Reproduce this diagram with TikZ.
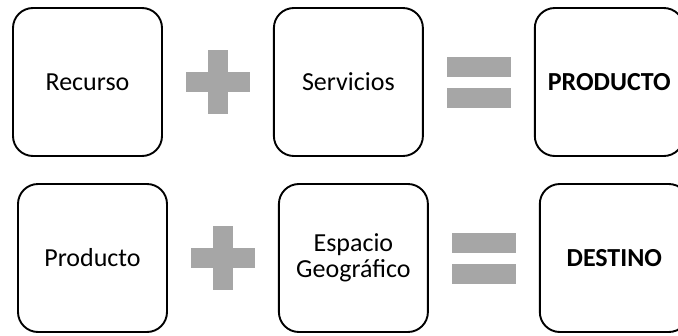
\documentclass[tikz,border=0pt]{standalone}
\usepackage{fontspec}
\setmainfont{Carlito}
\usetikzlibrary{positioning,calc}
\definecolor{opgray}{RGB}{166,166,166}
\tikzset{
	box/.style={draw, line width=1.9pt, rounded corners=20pt, minimum width=149pt, minimum height=148pt, align=center, font=\fontsize{26}{26}\selectfont},
	plussign/.pic={
		\fill[opgray] (-32,-10) rectangle (32,10);
		\fill[opgray] (-10,-32) rectangle (10,32);
	},
	eqsign/.pic={
		\fill[opgray] (-32,-25.5) rectangle (32,-5.5);
		\fill[opgray] (-32,5.5) rectangle (32,25.5);
	}
}

\begin{document}
\begin{tikzpicture}[x=1pt, y=-1pt, node distance=110pt]
				\clip (0,0) rectangle (678,335);
				% primera fila
				\node[box] (recurso) at (87.5,82) {Recurso};
				\node[box, right=of recurso] (servicios) {Servicios};
				\node[box, right=of servicios] (productoA) {\textbf{PRODUCTO}};
				\pic (masA) at ($(recurso.east)!0.5!(servicios.west)$) {plussign};
				\pic (igualA) at ($(servicios.east)!0.5!(productoA.west)$) {eqsign};
				% segunda fila
				\node[box] (producto) at (92.5,258) {Producto};
				\node[box, right=of producto] (espacio) {Espacio\\Geográfico};
				\node[box, right=of espacio] (destino) {\textbf{DESTINO}};
				\pic (masB) at ($(producto.east)!0.5!(espacio.west)$) {plussign};
				\pic (igualB) at ($(espacio.east)!0.5!(destino.west)$) {eqsign};
			\end{tikzpicture}
\end{document}
